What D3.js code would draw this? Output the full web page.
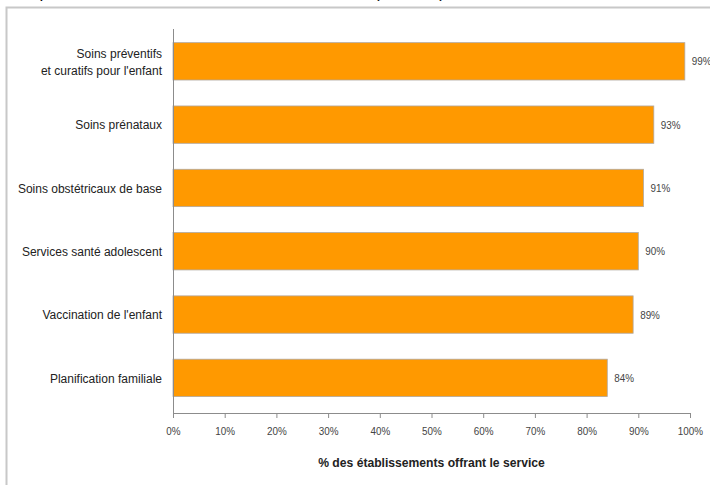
<!DOCTYPE html>
<html><head><meta charset="utf-8">
<script src="https://cdn.jsdelivr.net/npm/d3@7"></script>
<style>
body{margin:0;background:#fff;}
svg{display:block;}
text{font-family:"Liberation Sans",Arial,sans-serif;}
</style></head>
<body><svg id="c" width="710" height="485"></svg>
<script>
const categories = [
  ["Soins préventifs", "et curatifs pour l'enfant"],
  ["Soins prénataux"],
  ["Soins obstétricaux de base"],
  ["Services santé adolescent"],
  ["Vaccination de l'enfant"],
  ["Planification familiale"]
];
const values = [99, 93, 91, 90, 89, 84];
const tickValues = [0,10,20,30,40,50,60,70,80,90,100];
const axisTitle = "% des établissements offrant le service";

const svg = d3.select("#c");
const x = d3.scaleLinear().domain([0,100]).range([173, 690]);
const y = d3.scaleBand().domain(d3.range(categories.length)).range([30, 409.2]).paddingInner(0.41).paddingOuter(0.2);
const SX = 0.86; // condensed look

// frame (cropped)
svg.append("path").attr("d","M6.5,490 V7.5 H720").attr("fill","none").attr("stroke","#c8c8c8").attr("stroke-width",2);

// cropped caption above (only descenders visible)
svg.append("text").attr("x",15).attr("y",-2).attr("font-size",17).attr("fill","#000")
  .text("Disponibilité des services de santé maternelle");
svg.append("text").attr("x",374).attr("y",-2).attr("font-size",17).attr("fill","#000")
  .attr("textLength",71).attr("lengthAdjust","spacing")
  .text("(SMNI)");

// bars
svg.append("g").selectAll("rect").data(values).join("rect")
  .attr("x", x(0))
  .attr("y",(d,i)=>y(i))
  .attr("width", d=>x(d)-x(0))
  .attr("height", y.bandwidth())
  .attr("fill","#ff9900")
  .attr("stroke","#b0a8a0").attr("stroke-width",0.8);

// value labels
svg.append("g").selectAll("text").data(values).join("text")
  .attr("transform",(d,i)=>`translate(${x(d)+7},${y(i)+y.bandwidth()/2}) scale(${SX},1)`)
  .attr("dy","0.35em")
  .attr("font-size",11.5).attr("fill","#444")
  .text(d=>d+"%");

// x axis
const xAxis = d3.axisBottom(x).tickValues(tickValues).tickFormat(d=>d+"%").tickSize(5).tickPadding(9);
const gx = svg.append("g").attr("transform","translate(0,413)").call(xAxis);
gx.select(".domain").attr("stroke","#8c8c8c").attr("d","M173,0.5H690");
gx.selectAll(".tick line").attr("stroke","#8c8c8c");
gx.selectAll(".tick text").attr("font-size",11.5).attr("fill","#444").attr("font-family",null)
  .attr("transform",`scale(${SX},1)`);

// y axis line
svg.append("line").attr("x1",173.5).attr("x2",173.5).attr("y1",29).attr("y2",418).attr("stroke","#8c8c8c");

// category labels
const cl = svg.append("g").selectAll("text").data(categories).join("text")
  .attr("transform",(d,i)=>`translate(162,${y(i)+y.bandwidth()/2}) scale(0.89,1)`)
  .attr("text-anchor","end").attr("font-size",13.5).attr("fill","#222");
cl.each(function(d){
  const t=d3.select(this);
  const n=d.length, lh=17;
  d.forEach((line,k)=>{
    t.append("tspan").attr("x",0).attr("y", (k-(n-1)/2)*lh).attr("dy","0.35em").text(line);
  });
});

// axis title
svg.append("text").attr("transform",`translate(${(x(0)+x(100))/2},467) scale(0.9,1)`).attr("text-anchor","middle")
  .attr("font-size",13.5).attr("font-weight","bold").attr("fill","#222").text(axisTitle);
</script></body></html>
